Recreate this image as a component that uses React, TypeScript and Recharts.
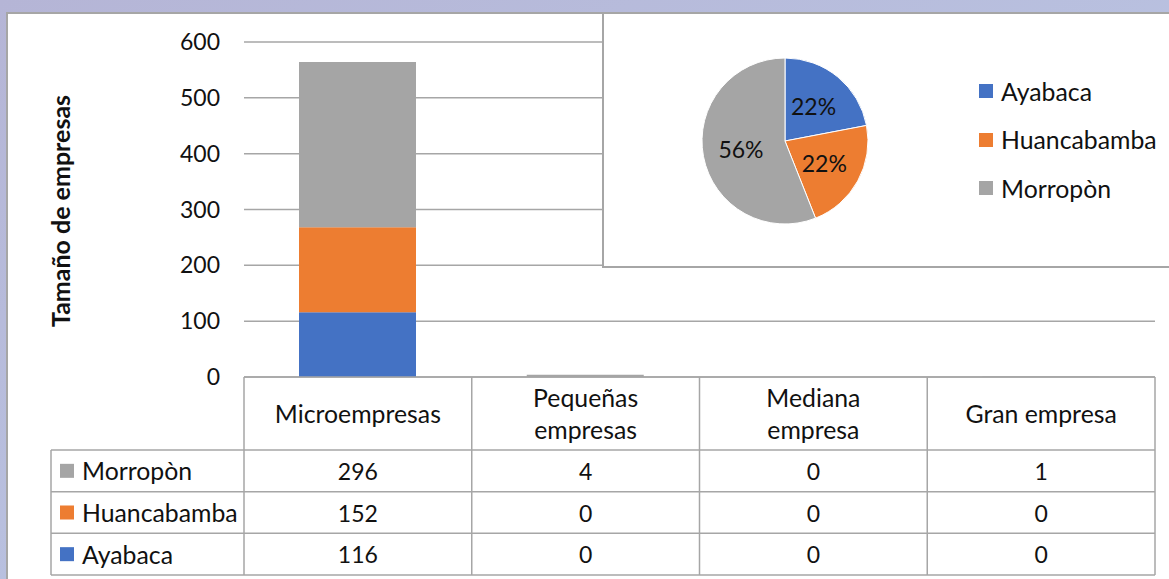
import { BarChart, Bar, XAxis, YAxis, CartesianGrid, PieChart, Pie, Cell, Legend } from "recharts";

// categories and the stacked series (values per category)
const categories = ["Microempresas", "Pequeñas empresas", "Mediana empresa", "Gran empresa"];
const headerLines = [["Microempresas"], ["Pequeñas", "empresas"], ["Mediana", "empresa"], ["Gran empresa"]];
const ayabaca = [116, 0, 0, 0];
const huancabamba = [152, 0, 0, 0];
const morropon = [296, 4, 0, 1];
const yTicks = [0, 100, 200, 300, 400, 500, 600];

// inset pie
const pieNames = ["Ayabaca", "Huancabamba", "Morropòn"];
const pieShares = [22, 22, 56];

const COLORS: Record<string, string> = {
  Ayabaca: "#4472c4",
  Huancabamba: "#ed7d31",
  Morropòn: "#a5a5a5",
};

const FONT = "Lato, 'Liberation Sans', sans-serif";
const GRID = "#a6a6a6";
const WORD_SIZE = 24.8; // words look wider than digits in the original font
const NUM_SIZE = 23;

// layout
const W = 1169;
const H = 579;
const PLOT_L = 244;
const PLOT_R = 1155;
const AXIS_Y = 377;
const HEADER_B = 450;
const TABLE_B = 575;
const TABLE_L = 51;

const barData = categories.map((c, i) => ({
  category: c,
  Ayabaca: ayabaca[i],
  Huancabamba: huancabamba[i],
  Morropòn: morropon[i],
}));

const pieData = pieNames.map((n, i) => ({ name: n, value: pieShares[i] }));

// table rows top to bottom
const tableRows = [
  { name: "Morropòn", values: morropon },
  { name: "Huancabamba", values: huancabamba },
  { name: "Ayabaca", values: ayabaca },
];

const HeaderTick = (props: any) => {
  const { x, payload } = props;
  const idx = categories.indexOf(payload.value);
  const lines = headerLines[idx] ?? [payload.value];
  const mid = (AXIS_Y + HEADER_B) / 2;
  const lh = 32;
  const start = mid - ((lines.length - 1) * lh) / 2;
  return (
    <g>
      {lines.map((l, i) => (
        <text
          key={i}
          x={x}
          y={start + i * lh}
          textAnchor="middle"
          dominantBaseline="central"
          fontFamily={FONT}
          fontSize={WORD_SIZE}
          fill="#111"
        >
          {l}
        </text>
      ))}
    </g>
  );
};

const RADIAN = Math.PI / 180;
const renderPieLabel = (props: any) => {
  const { cx, cy, midAngle, outerRadius, value } = props;
  const r = outerRadius * 0.54;
  const x = cx + r * Math.cos(-midAngle * RADIAN);
  const y = cy + r * Math.sin(-midAngle * RADIAN);
  return (
    <text x={x} y={y} textAnchor="middle" dominantBaseline="central" fontFamily={FONT} fontSize={NUM_SIZE} fill="#111">
      {`${value}%`}
    </text>
  );
};

const PieLegend = () => (
  <div style={{ fontFamily: FONT, fontSize: WORD_SIZE, color: "#111" }}>
    {pieNames.map((n) => (
      <div key={n} style={{ display: "flex", alignItems: "center", height: 48.5 }}>
        <span style={{ width: 14, height: 14, background: COLORS[n], marginRight: 8, display: "inline-block" }} />
        <span>{n}</span>
      </div>
    ))}
  </div>
);

export default function App() {
  const band = (PLOT_R - PLOT_L) / categories.length;
  const rowH = (TABLE_B - HEADER_B) / tableRows.length;

  return (
    <div
      style={{
        position: "absolute",
        left: 0,
        top: 0,
        width: W,
        height: H,
        overflow: "hidden",
        background: "linear-gradient(to bottom right, #b5b5d6, #bccbe8)",
      }}
    >
      <div
        style={{
          position: "absolute",
          left: 6,
          top: 12,
          width: W - 6,
          height: H - 12,
          background: "#fff",
          borderTop: `2px solid ${GRID}`,
          borderLeft: `2px solid ${GRID}`,
          boxSizing: "border-box",
        }}
      />

      <div style={{ position: "absolute", left: 0, top: 0 }}>
        <BarChart
          width={W}
          height={H}
          data={barData}
          margin={{ top: 42, right: W - PLOT_R, left: PLOT_L - 60, bottom: H - HEADER_B }}
          barSize={117}
        >
          <CartesianGrid vertical={false} stroke={GRID} strokeWidth={1.5} />
          <XAxis
            dataKey="category"
            height={HEADER_B - AXIS_Y}
            axisLine={{ stroke: GRID, strokeWidth: 1.5 }}
            tickLine={false}
            tick={<HeaderTick />}
            interval={0}
          />
          <YAxis
            width={60}
            domain={[0, 600]}
            ticks={yTicks}
            axisLine={false}
            tickLine={false}
            tickMargin={18}
            tick={{ fontFamily: FONT, fontSize: NUM_SIZE, fill: "#111" }}
          />
          <Bar dataKey="Ayabaca" stackId="a" fill={COLORS.Ayabaca} isAnimationActive={false} />
          <Bar dataKey="Huancabamba" stackId="a" fill={COLORS.Huancabamba} isAnimationActive={false} />
          <Bar dataKey="Morropòn" stackId="a" fill={COLORS["Morropòn"]} isAnimationActive={false} />
        </BarChart>
      </div>

      {/* data table and y title */}
      <svg width={W} height={H} style={{ position: "absolute", left: 0, top: 0, pointerEvents: "none" }}>
        <text
          transform={`translate(60, 211) rotate(-90)`}
          textAnchor="middle"
          dominantBaseline="central"
          fontFamily={FONT}
          fontWeight="bold"
          fontSize={25}
          fill="#111"
        >
          Tamaño de empresas
        </text>
        <g stroke={GRID} strokeWidth={1.5}>
          {categories.map((_, i) => (
            <line key={i} x1={PLOT_L + i * band} x2={PLOT_L + i * band} y1={AXIS_Y} y2={TABLE_B} />
          ))}
          <line x1={PLOT_R} x2={PLOT_R} y1={AXIS_Y} y2={TABLE_B} />
          <line x1={TABLE_L} x2={TABLE_L} y1={HEADER_B} y2={TABLE_B} />
          {[0, 1, 2, 3].map((r) => (
            <line key={r} x1={TABLE_L} x2={PLOT_R} y1={HEADER_B + r * rowH} y2={HEADER_B + r * rowH} />
          ))}
        </g>
        {tableRows.map((row, r) => {
          const cy = HEADER_B + r * rowH + rowH / 2;
          return (
            <g key={row.name}>
              <rect x={60} y={cy - 7} width={14} height={14} fill={COLORS[row.name]} />
              <text x={82} y={cy} dominantBaseline="central" fontFamily={FONT} fontSize={WORD_SIZE} fill="#111">
                {row.name}
              </text>
              {row.values.map((v, i) => (
                <text
                  key={i}
                  x={PLOT_L + band * (i + 0.5)}
                  y={cy}
                  textAnchor="middle"
                  dominantBaseline="central"
                  fontFamily={FONT}
                  fontSize={NUM_SIZE}
                  fill="#111"
                >
                  {v}
                </text>
              ))}
            </g>
          );
        })}
      </svg>

      {/* inset pie */}
      <div
        style={{
          position: "absolute",
          left: 602,
          top: 12,
          width: W - 602 + 4,
          height: 256,
          background: "#fff",
          border: `2px solid ${GRID}`,
          boxSizing: "border-box",
        }}
      >
        <PieChart width={566} height={252} margin={{ top: 0, right: 0, bottom: 0, left: 0 }}>
          <Pie
            data={pieData}
            dataKey="value"
            nameKey="name"
            cx={181}
            cy={127}
            outerRadius={83}
            startAngle={90}
            endAngle={-270}
            stroke="#fff"
            strokeWidth={1}
            label={renderPieLabel}
            labelLine={false}
            isAnimationActive={false}
          >
            {pieData.map((d) => (
              <Cell key={d.name} fill={COLORS[d.name]} />
            ))}
          </Pie>
          <Legend
            layout="vertical"
            align="right"
            verticalAlign="top"
            content={<PieLegend />}
            wrapperStyle={{ left: 375, top: 53, right: "auto", width: 190 }}
          />
        </PieChart>
      </div>
    </div>
  );
}
